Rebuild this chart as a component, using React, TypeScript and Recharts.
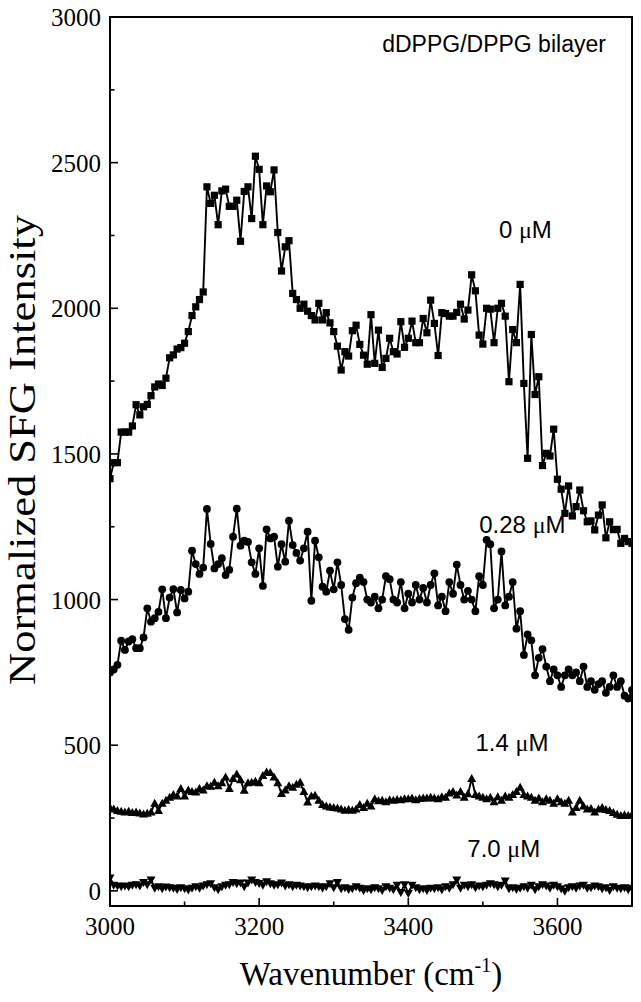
import React from 'react';
import { LineChart, Line, XAxis, YAxis, ReferenceDot, ReferenceArea } from 'recharts';

// wavenumber grid (cm-1), 5 cm-1 steps
const wavenumbers: number[] = Array.from({ length: 141 }, (_, i) => 3000 + 5 * i);

// 0 uM (squares)
const conc0 = [
  1415, 1470, 1470, 1575, 1575, 1575, 1596, 1669, 1634, 1662,
  1670, 1700, 1730, 1740, 1735, 1760, 1830, 1840, 1860, 1865,
  1880, 1920, 1975, 2005, 2030, 2056, 2417, 2360, 2388, 2287,
  2403, 2409, 2350, 2350, 2371, 2230, 2401, 2417, 2308, 2522,
  2477, 2287, 2420, 2400, 2475, 2260, 2128, 2211, 2232, 2051,
  2030, 2000, 2014, 1990, 1975, 1960, 2017, 1960, 1985, 1950,
  1920, 1870, 1788, 1851, 1836, 1923, 1942, 1876, 1839, 1808,
  1978, 1811, 1925, 1797, 1828, 1897, 1851, 1843, 1954, 1866,
  1897, 1956, 1882, 1882, 1965, 1916, 2028, 1948, 1838, 1985,
  1982, 1973, 1973, 1986, 2014, 1963, 1994, 2115, 2060, 1908,
  1877, 2000, 1997, 1882, 2000, 2017, 1973, 1748, 1927, 1882,
  2082, 1742, 1485, 1910, 1704, 1765, 1460, 1502, 1493, 1585,
  1413, 1379, 1296, 1390, 1287, 1319, 1376, 1305, 1267, 1270,
  1239, 1290, 1325, 1212, 1267, 1240, 1241, 1193, 1210, 1199,
  1193,
];

// 0.28 uM (circles)
const conc028 = [
  750, 760, 776, 859, 827, 856, 864, 833, 833, 870,
  970, 924, 936, 958, 1035, 936, 1007, 1036, 956, 1033,
  1004, 1027, 1168, 1122, 1088, 1110, 1311, 1191, 1107, 1122,
  1142, 1084, 1102, 1216, 1312, 1185, 1202, 1198, 1128, 1088,
  1176, 1047, 1241, 1210, 1216, 1113, 1190, 1130, 1271, 1187,
  1160, 1134, 1176, 1233, 996, 1202, 1145, 1044, 1027, 1099,
  1035, 1128, 1050, 933, 896, 1007, 1056, 1075, 1060, 1000,
  990, 1010, 970, 1000, 1080, 1070, 1000, 990, 1060, 970,
  1020, 990, 1050, 1000, 1040, 990, 1050, 1090, 980, 1010,
  960, 1060, 1020, 1120, 1050, 1000, 1030, 1000, 960, 1080,
  1050, 1205, 1190, 970, 1000, 1165, 980, 1010, 1060, 900,
  960, 810, 880, 860, 740, 800, 830, 770, 720, 760,
  740, 700, 740, 760, 740, 750, 720, 770, 700, 720,
  690, 710, 720, 680, 700, 740, 700, 720, 670, 660,
  690,
];

// 1.4 uM (up triangles)
const conc14 = [
  285, 280, 275, 272, 270, 272, 268, 270, 266, 263,
  265, 270, 300, 275, 300, 310, 320, 330, 325, 350,
  325, 345, 340, 338, 350, 345, 360, 358, 372, 360,
  370, 390, 350, 385, 400, 380, 344, 370, 372, 375,
  370, 395, 407, 405, 390, 370, 333, 345, 360, 355,
  365, 372, 340, 304, 325, 327, 310, 295, 290, 287,
  285, 283, 280, 276, 278, 276, 280, 295, 285, 300,
  290, 315, 308, 310, 305, 312, 310, 313, 312, 315,
  315, 318, 312, 316, 318, 318, 320, 318, 315, 322,
  320, 335, 340, 328, 340, 320, 332, 385, 330, 325,
  320, 315, 320, 305, 322, 310, 325, 320, 330, 340,
  355, 330, 325, 320, 310, 318, 305, 315, 310, 300,
  315, 305, 300, 310, 270, 285, 310, 290, 280, 282,
  270, 280, 285, 278, 275, 268, 262, 258, 260, 258,
  260,
];

// 7.0 uM (down triangles)
const conc70 = [
  45, 20, 18, 15, 18, 15, 20, 22, 18, 30,
  22, 38, 10, 15, 8, 14, 12, 10, 6, 12,
  8, 4, 10, 15, 10, 18, 22, 25, 12, 5,
  15, 20, 22, 30, 25, 28, 15, 28, 38, 30,
  26, 20, 32, 25, 20, 22, 28, 18, 22, 15,
  20, 18, 15, 12, 15, 18, 15, 10, 15, 25,
  12, 30, 8, 12, 6, 8, 15, 10, 2, 8,
  5, 12, 8, 2, 15, 10, 5, 20, -5, 22,
  -8, 20, 12, 5, 8, 2, 10, 8, 12, 5,
  15, 10, 22, 38, 10, 20, 15, 22, 12, 18,
  15, 20, 25, 22, 15, 20, 35, 8, 12, 6,
  10, 15, 10, 20, 5, 15, 22, 18, 10, 20,
  15, 8, 0, 12, 15, 10, 18, 20, 10, 12,
  18, 15, 8, 12, 2, 15, 10, 8, 12, 5,
  10,
];

const xTicks = [3000, 3100, 3200, 3300, 3400, 3500, 3600, 3700];
const xLabelStep = 200;
const yTicks = [0, 250, 500, 750, 1000, 1250, 1500, 1750, 2000, 2250, 2500, 2750, 3000];
const yLabelStep = 500;

const seriesLabels = [
  { x: 3557, y: 2240, text: '0 ' },
  { x: 3553, y: 1228, text: '0.28 ' },
  { x: 3539, y: 480, text: '1.4 ' },
  { x: 3528, y: 117, text: '7.0 ' },
];

const data = wavenumbers.map((w, i) => ({
  w,
  s0: conc0[i],
  s028: conc028[i],
  s14: conc14[i],
  s70: conc70[i],
}));

const SERIF = '"Liberation Serif", "Times New Roman", serif';
const SANS = '"Liberation Sans", Arial, sans-serif';

const YTick = (props: any) => {
  const { x, y, payload } = props;
  const major = payload.value % yLabelStep === 0;
  return (
    <g>
      <line x1={x} x2={x + (major ? 8 : 4.5)} y1={y} y2={y} stroke="#000" strokeWidth={1.6} />
      {major && (
        <text x={x - 9} y={y} dy="0.36em" textAnchor="end" fontFamily={SERIF} fontSize={25} fill="#000">
          {payload.value}
        </text>
      )}
    </g>
  );
};

const XTick = (props: any) => {
  const { x, y, payload } = props;
  const major = payload.value % xLabelStep === 0;
  return (
    <g>
      <line x1={x} x2={x} y1={y} y2={y - (major ? 8 : 4.5)} stroke="#000" strokeWidth={1.6} />
      {major && (
        <text x={x} y={y + 29} textAnchor="middle" fontFamily={SERIF} fontSize={25} fill="#000">
          {payload.value}
        </text>
      )}
    </g>
  );
};

const makeDot = (shape: string) => (props: any) => {
  const { cx, cy, index } = props;
  const k = `${shape}-${index}`;
  if (cx == null || cy == null || isNaN(cx) || isNaN(cy)) return <g key={k} />;
  if (shape === 'square') {
    return <rect key={k} x={cx - 3.6} y={cy - 3.6} width={7.2} height={7.2} fill="#000" />;
  }
  if (shape === 'circle') {
    return <circle key={k} cx={cx} cy={cy} r={3.9} fill="#000" />;
  }
  if (shape === 'up') {
    return <polygon key={k} points={`${cx},${cy - 4.8} ${cx - 4.5},${cy + 3.2} ${cx + 4.5},${cy + 3.2}`} fill="#000" />;
  }
  return <polygon key={k} points={`${cx},${cy + 4.8} ${cx - 4.5},${cy - 3.2} ${cx + 4.5},${cy - 3.2}`} fill="#000" />;
};

const SeriesLabel = (text: string) => (props: any) => {
  const vb = props.viewBox || {};
  const cx = (vb.x || 0) + (vb.width || 0) / 2;
  const cy = (vb.y || 0) + (vb.height || 0) / 2;
  return (
    <text x={cx} y={cy} textAnchor="middle" fontFamily={SANS} fontSize={24} fill="#000">
      {text}
      <tspan fontFamily={SERIF}>μ</tspan>
      M
    </text>
  );
};

const TitleLabel = (props: any) => {
  const vb = props.viewBox || {};
  const cx = (vb.x || 0) + (vb.width || 0) / 2;
  const cy = (vb.y || 0) + (vb.height || 0) / 2;
  return (
    <text x={cx} y={cy} textAnchor="end" fontFamily={SANS} fontSize={23} fill="#000">
      dDPPG/DPPG bilayer
    </text>
  );
};

const XTitle = () => (
  <text x={371} y={985} textAnchor="middle" fontFamily={SERIF} fontSize={33} fill="#000">
    Wavenumber (cm
    <tspan fontSize={20} dy={-13}>-1</tspan>
    <tspan dy={13}>)</tspan>
  </text>
);

const YTitle = () => (
  <text
    x={35}
    y={450}
    transform="rotate(-90, 35, 450)"
    textAnchor="middle"
    fontFamily={SERIF}
    fontSize={38}
    textLength={470}
    lengthAdjust="spacingAndGlyphs"
    fill="#000"
  >
    Normalized SFG Intensity
  </text>
);

export default function App() {
  return (
    <div style={{ position: 'absolute', left: 0, top: 0, width: 641, height: 1002, background: '#fff' }}>
      <LineChart
        width={641}
        height={1002}
        data={data}
        margin={{ top: 17, right: 9, left: 0, bottom: 0 }}
      >
        <XAxis
          dataKey="w"
          type="number"
          domain={[3000, 3700]}
          ticks={xTicks}
          interval={0}
          allowDataOverflow
          height={96}
          tickSize={0}
          tickMargin={0}
          tick={<XTick />}
          axisLine={{ stroke: '#000', strokeWidth: 2 }}
          label={{ content: <XTitle /> }}
        />
        <YAxis
          type="number"
          domain={[-52, 3000]}
          ticks={yTicks}
          interval={0}
          allowDataOverflow
          width={110}
          tickSize={0}
          tickMargin={0}
          tick={<YTick />}
          axisLine={{ stroke: '#000', strokeWidth: 2 }}
          label={{ content: <YTitle /> }}
        />
        <ReferenceArea
          x1={3000}
          x2={3700}
          y1={-52}
          y2={3000}
          fill="none"
          fillOpacity={0}
          stroke="#000"
          strokeWidth={2}
          ifOverflow="visible"
        />
        <Line dataKey="s0" type="linear" stroke="#000" strokeWidth={1.9} dot={makeDot('square')} isAnimationActive={false} />
        <Line dataKey="s028" type="linear" stroke="#000" strokeWidth={1.9} dot={makeDot('circle')} isAnimationActive={false} />
        <Line dataKey="s14" type="linear" stroke="#000" strokeWidth={1.9} dot={makeDot('up')} isAnimationActive={false} />
        <Line dataKey="s70" type="linear" stroke="#000" strokeWidth={1.9} dot={makeDot('down')} isAnimationActive={false} />
        {seriesLabels.map((s) => (
          <ReferenceDot key={s.text} x={s.x} y={s.y} r={0} fill="none" stroke="none" ifOverflow="visible" label={{ content: SeriesLabel(s.text) }} />
        ))}
        <ReferenceDot x={3665} y={2879} r={0} fill="none" stroke="none" ifOverflow="visible" label={{ content: <TitleLabel /> }} />
      </LineChart>
    </div>
  );
}
